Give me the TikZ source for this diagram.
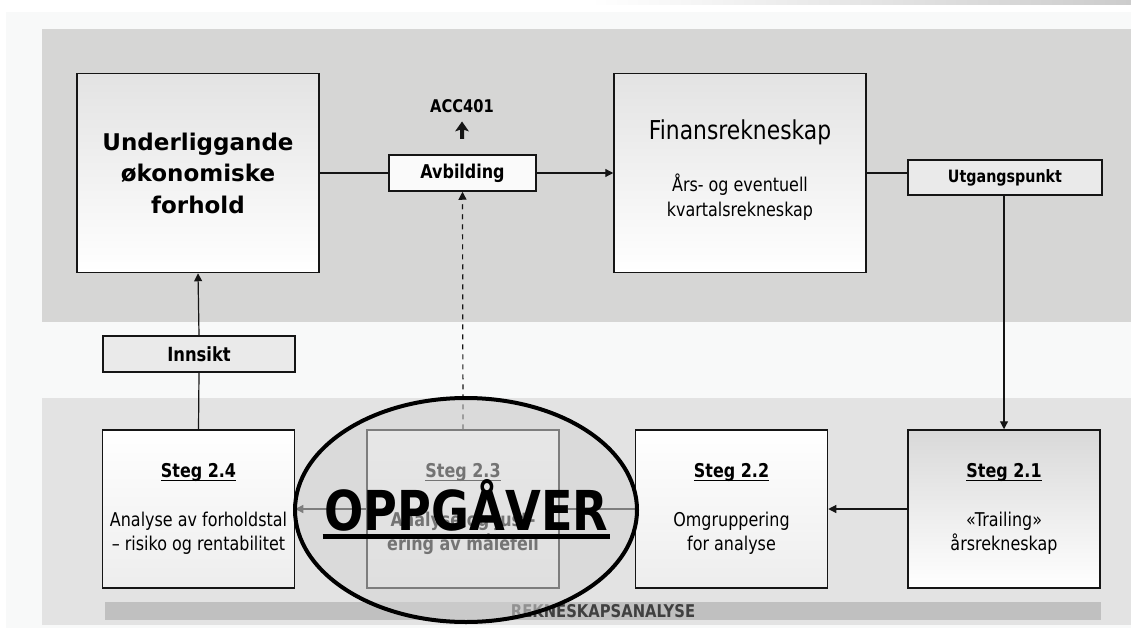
\documentclass[tikz,border=0pt]{standalone}
\usepackage{fontspec}
\setmainfont{DejaVu Sans}[FakeStretch=0.84]
\newfontfamily\widefont{DejaVu Sans}
\usetikzlibrary{arrows.meta}

\definecolor{pagetint}{HTML}{F8F9F9}
\definecolor{uppanel}{HTML}{D6D6D5}
\definecolor{lowpanel}{HTML}{E3E3E3}
\definecolor{tagfill}{HTML}{EAEAEA}
\definecolor{barfill}{HTML}{C0C0C0}
\definecolor{bartext}{HTML}{404040}
\definecolor{veil}{HTML}{D4D4D4}
\definecolor{ink}{HTML}{151515}

% underline drawn as a rule just below the baseline
\newcommand\stegul[1]{\setbox0\hbox{#1}\rlap{\vrule width\wd0 height -2pt depth 3.6pt}\box0}

\tikzset{
  bigbox/.style={draw=ink, line width=1.5pt, inner sep=0pt, align=center,
    minimum height=199pt, top color=gray!22, bottom color=white},
  stegbox/.style={draw=ink, line width=1.5pt, inner sep=0pt, align=center,
    minimum width=192pt, minimum height=158pt,
    font=\fontsize{19}{24}\selectfont, top color=white, bottom color=gray!14},
  tagbox/.style={draw=ink, line width=1.5pt, inner sep=0pt, align=center,
    minimum height=36pt, fill=tagfill, font=\bfseries},
  link/.style={draw=ink, line width=1.2pt},
  flow/.style={link, -{Triangle[length=8pt,width=8pt]}},
}

\begin{document}
\begin{tikzpicture}[x=1pt, y=-1pt]
\useasboundingbox (0,0) rectangle (1131,628);

% page and panels
\fill[white] (0,0) rectangle (1131,628);
\shade[left color=white, right color=gray!40] (590,0) rectangle (1131,5);
\fill[pagetint] (6,12) rectangle (1131,628);
\fill[uppanel] (42,29) rectangle (1131,322);
\fill[lowpanel] (42,398) rectangle (1131,625);

% upper row
\node[bigbox, minimum width=242pt,
      font=\widefont\bfseries\fontsize{23}{31.5}\selectfont]
  (base) at (198,173) {Underliggande\\økonomiske\\forhold};
\node[bigbox, minimum width=252pt, font=\fontsize{19}{25}\selectfont]
  (fin) at (740,173)
  {\fontsize{26}{30}\selectfont Finansrekneskap\\[27pt]%
   Års- og eventuell\\kvartalsrekneskap\rule[-9pt]{0pt}{9pt}};
\node[tagbox, minimum width=147pt, fill=white!98!black,
      font=\bfseries\fontsize{19}{22}\selectfont]
  (avb) at (462.5,173) {Avbilding};
\node[tagbox, minimum width=194pt, minimum height=35pt,
      font=\bfseries\fontsize{17}{20}\selectfont]
  (utg) at (1005,177.5) {Utgangspunkt};
\node[tagbox, minimum width=192pt,
      font=\bfseries\fontsize{19.5}{22}\selectfont]
  (ins) at (199,354) {Innsikt};
\node[font=\bfseries\fontsize{17.5}{20}\selectfont, inner sep=0pt]
  (acc) at (462,106) {ACC401};

% small bold up arrow under the course code
\fill[ink] (462,121.5) -- (469,131.5) -- (464,129.8) -- (464,139)
  -- (460,139) -- (460,129.8) -- (455,131.5) -- cycle;

% lower row
\node[stegbox] (s24) at (198.5,509)
  {\bfseries\stegul{Steg 2.4}\\[25pt]Analyse av forholdstal\\– risiko og rentabilitet};
\node[stegbox, font=\bfseries\fontsize{19}{24}\selectfont] (s23) at (463,509)
  {\stegul{Steg 2.3}\\[25pt]Analyse og just-\\ering av målefeil};
\node[stegbox] (s22) at (731.5,509)
  {\bfseries\stegul{Steg 2.2}\\[25pt]Omgruppering\\for analyse};
\node[stegbox, top color=gray!30, middle color=gray!10, bottom color=white]
  (s21) at (1004,509)
  {\bfseries\stegul{Steg 2.1}\\[25pt]«Trailing»\\årsrekneskap};

\node[fill=barfill, minimum width=996pt, minimum height=18pt, inner sep=0pt,
      text=bartext, font=\bfseries\fontsize{17.6}{18}\selectfont]
  (bar) at (603,611) {REKNESKAPSANALYSE};

% connectors
\draw[link] (base.east) -- (avb.west);
\draw[flow] (avb.east) -- (fin.west);
\draw[link] (fin.east) -- (fin.east -| utg.west);
\draw[flow] (s21.north |- utg.south) -- (s21.north);
\draw[flow] (s21.west) -- (s22.east);
\draw[flow] (s22.west) -- (s23.east);
\draw[flow] (s23.west) -- (s24.east);
\draw[link] (s24.north) -- (ins.south);
\draw[flow] (ins.north) -- (base.south);
\draw[flow, dash pattern=on 5pt off 5pt] (s23.north) -- (avb.south);

% highlighted task area
\fill[veil, fill opacity=0.55] (466,510) ellipse [x radius=171pt, y radius=112pt];
\draw[black, line width=4pt] (466,510) ellipse [x radius=171pt, y radius=112pt];
\node[anchor=base, inner sep=0pt, font=\bfseries\fontsize{55}{60}\selectfont]
  (task) at (466.5,530) {OPPGÅVER};
\draw[black, line width=5pt] ([xshift=-2pt, yshift=-6pt]task.base west)
  -- ([xshift=2pt, yshift=-6pt]task.base east);
\end{tikzpicture}
\end{document}
